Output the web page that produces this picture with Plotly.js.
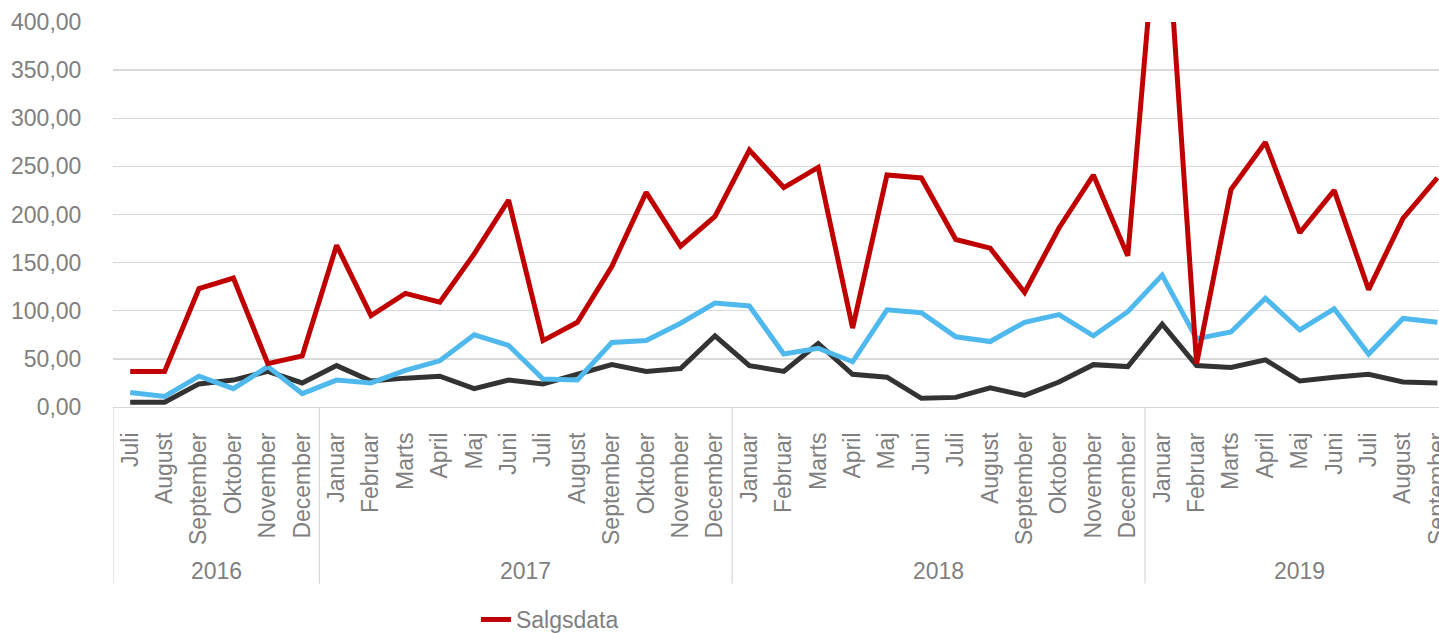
<!DOCTYPE html>
<html>
<head>
<meta charset="utf-8">
<script src="https://cdn.plot.ly/plotly-3.0.1.min.js"></script>
<style>
  html, body { margin: 0; padding: 0; background: #ffffff; overflow: hidden; }
  #chart { width: 1439px; height: 633px; }
</style>
</head>
<body>
<div id="chart"></div>
<script>
// ---- data ----
const years = ["2016","2016","2016","2016","2016","2016",
  "2017","2017","2017","2017","2017","2017","2017","2017","2017","2017","2017","2017",
  "2018","2018","2018","2018","2018","2018","2018","2018","2018","2018","2018","2018",
  "2019","2019","2019","2019","2019","2019","2019","2019","2019"];
const months = ["Juli","August","September","Oktober","November","December",
  "Januar","Februar","Marts","April","Maj","Juni","Juli","August","September","Oktober","November","December",
  "Januar","Februar","Marts","April","Maj","Juni","Juli","August","September","Oktober","November","December",
  "Januar","Februar","Marts","April","Maj","Juni","Juli","August","September"];
const salgsdata = [37, 37, 123, 134, 45, 53,
  168, 95, 118, 109, 159, 215, 69, 88, 146, 223, 167, 198,
  267, 228, 249, 82, 241, 238, 174, 165, 119, 186, 241, 157,
  575, 45, 226, 275, 181, 225, 122, 196, 238];
const serieBlaa = [15, 11, 32, 19, 42, 14,
  28, 25, 38, 48, 75, 64, 29, 28, 67, 69, 87, 108,
  105, 55, 61, 47, 101, 98, 73, 68, 88, 96, 74, 99,
  137, 71, 78, 113, 80, 102, 55, 92, 88];
const serieSort = [5, 5, 24, 28, 37, 25,
  43, 27, 30, 32, 19, 28, 24, 34, 44, 37, 40, 74,
  43, 37, 66, 34, 31, 9, 10, 20, 12, 26, 44, 42,
  86, 43, 41, 49, 27, 31, 34, 26, 25];

// ---- build ----
const xs = months.map((_, i) => i);
const textColor = '#7f7f7f';
const gridColor = '#d9d9d9';
const font = { family: 'Liberation Sans, Arial, sans-serif', size: 23, color: textColor };

// year groups
const groups = [];
years.forEach((y, i) => {
  if (!groups.length || groups[groups.length - 1].year !== y) groups.push({ year: y, start: i, end: i });
  else groups[groups.length - 1].end = i;
});

const dividerBottom = -0.4586;
const shapes = groups.map(g => ({
  type: 'line', xref: 'x', yref: 'paper',
  x0: g.start - 0.5, x1: g.start - 0.5, y0: 0, y1: dividerBottom,
  line: { color: gridColor, width: 1.3 }
}));
const annotations = groups.map(g => ({
  xref: 'x', yref: 'paper', x: (g.start + g.end) / 2, y: -0.4248,
  text: g.year, showarrow: false, xanchor: 'center', yanchor: 'middle', font: font
}));

const traces = [
  { x: xs, y: serieSort, type: 'scatter', mode: 'lines', name: 'Serie 3', showlegend: false,
    line: { color: '#333333', width: 5 } },
  { x: xs, y: serieBlaa, type: 'scatter', mode: 'lines', name: 'Serie 2', showlegend: false,
    line: { color: '#4fb9ee', width: 5 } },
  { x: xs, y: salgsdata, type: 'scatter', mode: 'lines', name: 'Salgsdata',
    line: { color: '#c00000', width: 5 } }
];

const layout = {
  width: 1439, height: 633,
  margin: { l: 113, r: 0, t: 22, b: 226, pad: 0, autoexpand: false },
  paper_bgcolor: '#ffffff', plot_bgcolor: '#ffffff',
  separators: ',.',
  font: font,
  showlegend: true,
  legend: { orientation: 'h', x: 0.2737, xanchor: 'left', y: -0.552, yanchor: 'middle',
    font: font, bgcolor: 'rgba(0,0,0,0)' },
  xaxis: {
    range: [-0.5, 38.047], tickmode: 'array', tickvals: xs, ticktext: months,
    tickangle: -90, ticks: 'outside', ticklen: 15, tickcolor: 'rgba(0,0,0,0)',
    ticklabeloverflow: 'allow',
    showgrid: false, zeroline: false, showline: true, linecolor: gridColor, linewidth: 1.3,
    tickfont: font, fixedrange: true, automargin: false
  },
  yaxis: {
    range: [0, 400], dtick: 50, tick0: 0, tickformat: '.2f',
    ticks: 'outside', ticklen: 26, tickcolor: 'rgba(0,0,0,0)',
    showgrid: true, gridcolor: gridColor, gridwidth: 1.3, zeroline: false, showline: false,
    tickfont: font, fixedrange: true, automargin: false
  },
  shapes: shapes,
  annotations: annotations
};

Plotly.newPlot('chart', traces, layout, { displayModeBar: false, staticPlot: true });
</script>
</body>
</html>
